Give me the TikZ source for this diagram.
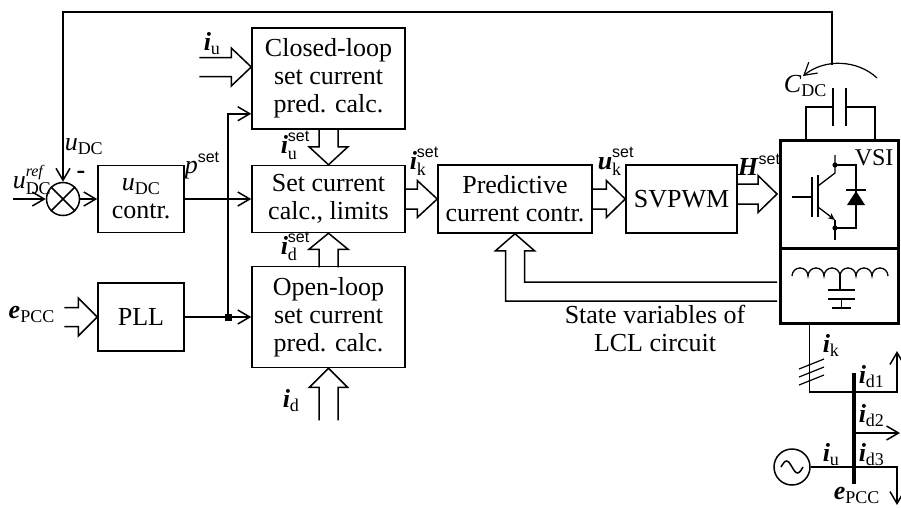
\documentclass[tikz,border=0pt]{standalone}
\usepackage{fontspec}
\setmainfont{Liberation Serif}
\setsansfont{Liberation Sans}
\usetikzlibrary{arrows.meta,calc}
\newcommand{\BI}[1]{\textbf{\textit{#1}}}
\newcommand{\sbs}[1]{\raisebox{-4pt}{\fontsize{18}{18}\selectfont #1}}
\newcommand{\sps}[1]{\raisebox{10.5pt}{\fontsize{16}{16}\selectfont #1}}
\newcommand{\SubSup}[3]{#1\rlap{\raisebox{-6.5pt}{\fontsize{18}{18}\selectfont #2}}\raisebox{11.5pt}{\fontsize{16}{16}\selectfont #3}}
\newcommand{\st}{{\sffamily set}}
\tikzset{
  pics/harrow/.style args={#1/#2/#3/#4}{code={
    \draw[line width=1.5pt, line join=miter] (-#1,-#3) -- (-#2,-#3) -- (-#2,-#4) -- (0,0) -- (-#2,#4) -- (-#2,#3) -- (-#1,#3);
  }}
}
\begin{document}
\begin{tikzpicture}[x=1pt,y=-1pt, line width=1.5pt,
  >={Straight Barb[length=12pt,width=14pt]},
  box/.style={draw, inner sep=0pt, align=center, font=\fontsize{26}{28}\selectfont},
  thickbox/.style={draw, line width=3pt, inner sep=0pt},
  lbl/.style={inner sep=0pt, font=\fontsize{26}{28}\selectfont},
  hollowline/.style={line width=1.5pt, line join=miter},
  comp/.style={line width=1.3pt}]
\useasboundingbox (0,0) rectangle (901,507);

% ---------- blocks ----------
\node[box, minimum width=153pt, minimum height=101pt] (cl) at (328.5,78.5) {Closed-loop\\set current\\pred. calc.};
\node[box, minimum width=153pt, minimum height=67pt] (sc) at (328.5,199) {Set current\\calc., limits};
\node[box, minimum width=153pt, minimum height=101pt] (ol) at (328.5,317) {Open-loop\\set current\\pred. calc.};
\node[box, minimum width=86pt, minimum height=67pt] (udc) at (141,199) {\textit{u}\sbs{DC}\\contr.};
\node[box, minimum width=86pt, minimum height=68pt] (pll) at (141,317) {PLL};
\node[box, minimum width=154pt, minimum height=68pt] (pcc) at (515,199) {Predictive\\current contr.};
\node[box, minimum width=111pt, minimum height=68pt] (svp) at (681.5,199) {SVPWM};
\node[thickbox, minimum width=118pt, minimum height=108pt] (vsi) at (839,194) {};
\node[thickbox, minimum width=118pt, minimum height=75pt] (lcl) at (839,285.5) {};

% ---------- summing junction ----------
\node[circle, draw, minimum size=33pt, inner sep=0pt] (sum) at (63,199) {};
\draw (sum.north west) -- (sum.south east) (sum.north east) -- (sum.south west);

% ---------- thin connectors ----------
\coordinate (in) at (13,199);
\draw[->] (in) -- (sum.west);
\draw[->] (sum.east) -- (udc.west);
\draw[->] (udc.east) -- (sc.west);
\node[fill, minimum size=7pt, inner sep=0pt] (jn) at (228,317) {};
\draw[->] (pll.east) -- (ol.west);
\draw[->] (jn.center) |- ($(cl.south west)+(0,-16)$);
\coordinate (fb) at (832,65);
\coordinate (fbc) at (63,12);
\draw[->] (fb) |- (fbc) -- (sum.north);
\coordinate (arcA) at (877,78);
\coordinate (arcB) at (803,76);
\draw[line width=1.2pt, ->] (arcA) .. controls (858,60) and (825,58) .. (arcB);

% ---------- hollow arrows ----------
\pic at ($(cl.west)+(0,-11.5)$) {harrow=52/20/9.5/19};
\pic[rotate=-90] at (sc.north) {harrow=36/18/9.5/19.5};
\pic[rotate=90] at (sc.south) {harrow=34/16/9.5/19.5};
\pic[rotate=90] at (ol.south) {harrow=52/19/9.5/19};
\pic at (pll.west) {harrow=33/19/9.5/19};
\pic at (pcc.west) {harrow=33/20/10/18.5};
\pic at (svp.west) {harrow=34/19/10/18.5};
\pic at ([xshift=-1.5pt]vsi.west) {harrow=41/19/10/18.5};
\draw[hollowline] ($(lcl.west)+(-1.5,15.5)$) -| ($(pcc.south)+(-9.5,17)$) -- ($(pcc.south)+(-19.5,17)$) -- (pcc.south) -- ($(pcc.south)+(19.5,17)$) -- ($(pcc.south)+(9.5,17)$) |- ($(lcl.west)+(-1.5,-3.5)$);

% ---------- labels ----------
\node[lbl, anchor=base west] (l1) at (64,150) {\textit{u}\sbs{DC}};
\node[lbl, anchor=base west] (l2) at (12,188) {\SubSup{\textit{u}}{DC}{\textit{ref}}};
\node[lbl] (l3) at (81,175) {\textbf{-}};
\node[lbl, anchor=base west] (l4) at (184,173) {\textit{p}\sps{\st}};
\node[lbl, anchor=base west] (l5) at (203,50) {\BI{i}\sbs{u}};
\node[lbl, anchor=base west] (l6) at (280,153) {\SubSup{\BI{i}}{u}{\st}};
\node[lbl, anchor=base west] (l7) at (280,254) {\SubSup{\BI{i}}{d}{\st}};
\node[lbl, anchor=base west] (l8) at (409,169) {\SubSup{\BI{i}}{k}{\st}};
\node[lbl, anchor=base west] (l9) at (597,169) {\SubSup{\BI{u}}{k}{\st}};
\node[lbl, anchor=base west] (l10) at (737,175) {\BI{H}\sps{\st}};
\node[lbl, anchor=base west] (l11) at (783,92) {\textit{C}\sbs{DC}};
\node[lbl, anchor=base west, font=\fontsize{24}{26}\selectfont] (l12) at (854,165) {VSI};
\node[lbl, anchor=base west] (l13) at (8,318) {\BI{e}\sbs{PCC}};
\node[lbl, anchor=base west] (l14) at (282,407) {\BI{i}\sbs{d}};
\node[lbl, align=center] (l15) at (655,328) {State variables of\\LCL circuit};
\node[lbl, anchor=base west] (l16) at (822,352) {\BI{i}\sbs{k}};
\node[lbl, anchor=base west] (l17) at (858,383) {\BI{i}\sbs{d1}};
\node[lbl, anchor=base west] (l18) at (858,422) {\BI{i}\sbs{d2}};
\node[lbl, anchor=base west] (l19) at (858,461) {\BI{i}\sbs{d3}};
\node[lbl, anchor=base west] (l20) at (822,461) {\BI{i}\sbs{u}};
\node[lbl, anchor=base west] (l21) at (833,499) {\BI{e}\sbs{PCC}};

% ---------- DC capacitor ----------
\draw[line width=2.6pt] (806,141) -- (806,107) -- (833,107);
\draw[line width=2.6pt] (846,107) -- (875,107) -- (875,141);
\draw[line width=2.6pt] (833,88) -- (833,126) (846,88) -- (846,126);

% ---------- IGBT + diode ----------
\draw[comp] (792,197) -- (812,197) (812,177) -- (812,217) (818,175) -- (818,217);
\draw[comp] (818,186) -- (835,173) -- (835,155);
\draw[comp, -{Stealth[length=7pt,width=6pt]}] (818,207) -- (835,220);
\draw[comp] (835,220) -- (835,240);
\fill (835,165) circle (2.6pt) (835,228) circle (2.6pt);
\draw[comp] (835,165) -- (856,165) -- (856,228) -- (835,228);
\fill (847,205) -- (865,205) -- (856,191) -- cycle;
\draw[comp] (846,190) -- (866,190);

% ---------- LCL filter ----------
\draw[comp] (792,276) arc[start angle=180,end angle=360,radius=8] arc[start angle=180,end angle=360,radius=8] arc[start angle=180,end angle=360,radius=8]
                     arc[start angle=180,end angle=360,radius=8] arc[start angle=180,end angle=360,radius=8] arc[start angle=180,end angle=360,radius=8];
\draw[comp] (840,276) -- (840,290) (828,290) -- (855,290) (828,299) -- (855,299) (841.5,299) -- (841.5,308) (832,308) -- (851,308);

% ---------- grid side ----------
\coordinate (kout) at ($(lcl.south west)+(31,0)$);
\coordinate (bj) at (897,392);
\coordinate (d1end) at (897,351);
\draw[->] (kout) |- (bj) -- (d1end);
\foreach \yy in {364,372,380} \draw[line width=1.2pt] (799,\yy+5) -- (824,\yy-5);
\coordinate (bustop) at (854,373);
\coordinate (busbot) at (854,484);
\draw[line width=4.5pt] (bustop) -- (busbot);
\coordinate (d2a) at (854,433);
\coordinate (d2b) at (900,433);
\draw[->] (d2a) -- (d2b);
\node[circle, draw, minimum size=36pt, inner sep=0pt] (src) at (792,467) {};
\draw (781,467) sin (786.5,461) cos (792,467) sin (797.5,473) cos (803,467);
\coordinate (d3end) at (897,505);
\draw[->] (src.east) -| (d3end);
\end{tikzpicture}
\end{document}
